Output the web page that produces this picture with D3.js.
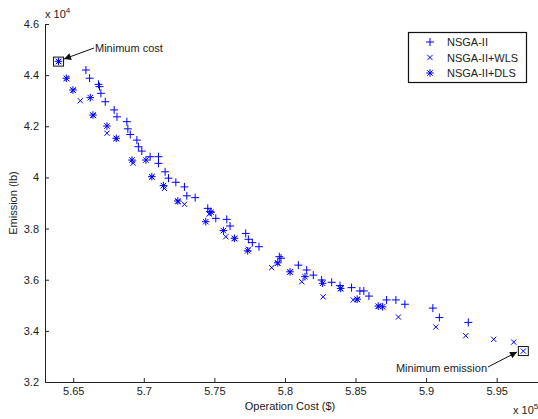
<!doctype html>
<html>
  <head>
    <meta charset="utf-8">
    <title>Pareto fronts</title>
    <script src="https://cdn.jsdelivr.net/npm/d3@7/dist/d3.min.js"></script>
    <style>
      body { margin: 0; background: #fff; }
      text { font-family: "Liberation Sans", Arial, sans-serif; fill: #222; }
    </style>
  </head>
  <body>
  <script>

  var width = 538;
  var height = 419;

  // NSGA-II  (cost $, emission lb)
  var nsgaCost = [565900, 566160, 566790, 566860, 566960, 567270, 567900, 568100, 568800, 568870,
    569040, 569510, 569620, 569860, 570450, 571040, 571040, 571510, 571750, 572270,
    572880, 573050, 573640, 574530, 574700, 575100, 575880, 576110, 577220, 577410,
    577690, 578160, 579600, 579720, 580950, 581540, 582010, 582600, 583310, 583900,
    584720, 585310, 585590, 585950, 587200, 587860, 588500, 590480, 590940, 592990];
  var nsgaEmission = [44200, 43880, 43640, 43550, 43290, 42960, 42640, 42370, 42180, 41900,
    41680, 41460, 41200, 41030, 40810, 40810, 40550, 40220, 39970, 39810,
    39630, 39280, 39210, 38790, 38660, 38400, 38360, 38100, 37810, 37580,
    37450, 37290, 36900, 36840, 36570, 36380, 36180, 35990, 35900, 35770,
    35690, 35560, 35560, 35360, 35210, 35210, 35040, 34890, 34520, 34330];

  // NSGA-II+WLS
  var wlsCost = [563960, 564540, 565500, 565000, 566420, 567390, 568060, 569250, 570580, 571460,
    572880, 572420, 574630, 575810, 576430, 577410, 579060, 579480, 580360, 581190,
    582710, 583940, 584840, 585130, 586640, 588040, 590690, 592810, 594790, 596210, 596890];
  var wlsEmission = [44530, 43860, 43000, 43400, 42420, 41730, 41510, 40560, 40010, 39570,
    38950, 39050, 38570, 37680, 37600, 37190, 36470, 36640, 36290, 35920,
    35330, 35640, 35210, 35220, 34950, 34540, 34150, 33810, 33670, 33560, 33210];

  // NSGA-II+DLS
  var dlsCost = [563960, 564510, 564980, 566210, 566400, 567390, 568050, 569160, 570150, 570570,
    571390, 572410, 574390, 574770, 575640, 576420, 577360, 579490, 580360, 581420,
    582670, 583950, 585120, 586610, 586920];
  var dlsEmission = [44540, 43880, 43420, 43120, 42440, 42010, 41530, 40680, 40680, 40030,
    39680, 39080, 38270, 38640, 37920, 37620, 37130, 36660, 36310, 36120,
    35860, 35660, 35240, 34970, 34940];

  var seriesNames = ["NSGA-II", "NSGA-II+WLS", "NSGA-II+DLS"];
  var xTicks = [565000, 570000, 575000, 580000, 585000, 590000, 595000];
  var yTicks = [32000, 34000, 36000, 38000, 40000, 42000, 44000, 46000];

  var margin = {top: 24, right: -1, bottom: 37, left: 45};

  var x = d3.scaleLinear().domain([563000, 598000]).range([margin.left, width - margin.right]);
  var y = d3.scaleLinear().domain([32000, 46000]).range([height - margin.bottom, margin.top]);

  // marker shapes
  function plus(s) { return "M" + (-s) + ",0H" + s + "M0," + (-s) + "V" + s; }
  function cross(s) { return "M" + (-s) + "," + (-s) + "L" + s + "," + s + "M" + (-s) + "," + s + "L" + s + "," + (-s); }
  function star(s) { return plus(s) + cross(s * 0.72); }

  var markers = [plus(4), cross(2.6), star(3.8)];

  var svg = d3.select("body").append("svg")
    .attr("width", width)
    .attr("height", height);

  // axes
  var xAxis = d3.axisBottom(x).tickValues(xTicks)
    .tickSizeInner(-4).tickSizeOuter(0).tickPadding(5)
    .tickFormat(function (d) { return d3.format("~g")(d / 1e5); });
  var yAxis = d3.axisLeft(y).tickValues(yTicks)
    .tickSizeInner(-4).tickSizeOuter(0).tickPadding(6)
    .tickFormat(function (d) { return d3.format("~g")(d / 1e4); });

  var gx = svg.append("g").attr("transform", "translate(0," + y.range()[0] + ")").call(xAxis);
  var gy = svg.append("g").attr("transform", "translate(" + margin.left + ",0)").call(yAxis);
  [gx, gy].forEach(function (g) {
    g.select(".domain").attr("stroke", "#222");
    g.selectAll(".tick line").attr("stroke", "#222");
    g.selectAll("text").attr("font-size", 11).attr("font-family", "Liberation Sans, Arial, sans-serif").attr("fill", "#222");
  });

  // exponent labels
  var e4 = svg.append("text").attr("x", 45).attr("y", 18).attr("font-size", 11).text("x 10");
  e4.append("tspan").attr("dy", -5).attr("font-size", 8).text("4");
  var e5 = svg.append("text").attr("x", 513).attr("y", 414).attr("font-size", 11).text("x 10");
  e5.append("tspan").attr("dy", -5).attr("font-size", 8).text("5");

  // axis titles
  svg.append("text")
    .attr("transform", "translate(17," + (margin.top + y.range()[0]) / 2 + ") rotate(-90)")
    .attr("text-anchor", "middle").attr("font-size", 11)
    .text("Emission (lb)");
  svg.append("text")
    .attr("x", 290).attr("y", 410)
    .attr("text-anchor", "middle").attr("font-size", 11)
    .text("Operation Cost ($)");

  // points
  var series = [
    {cost: nsgaCost, em: nsgaEmission},
    {cost: wlsCost, em: wlsEmission},
    {cost: dlsCost, em: dlsEmission}
  ];

  series.forEach(function (s, i) {
    svg.append("g").selectAll("path")
      .data(d3.range(s.cost.length))
      .enter().append("path")
      .attr("transform", function (k) { return "translate(" + x(s.cost[k]) + "," + y(s.em[k]) + ")"; })
      .attr("d", markers[i])
      .attr("fill", "none")
      .attr("stroke", "#0000ff")
      .attr("stroke-width", 1);
  });

  // annotations: min cost and min emission
  svg.append("defs").append("marker")
    .attr("id", "head").attr("viewBox", "0 0 10 10")
    .attr("refX", 10).attr("refY", 5)
    .attr("markerWidth", 9).attr("markerHeight", 7)
    .attr("markerUnits", "userSpaceOnUse")
    .attr("orient", "auto")
    .append("path").attr("d", "M0,0L10,5L0,10z").attr("fill", "#111");

  var notes = [
    {cost: wlsCost[0], em: wlsEmission[0], label: "Minimum cost", tx: 95, ty: 52, anchor: "start", ax: 94, ay: 48, hx: 64, hy: 59},
    {cost: wlsCost[wlsCost.length - 1], em: wlsEmission[wlsEmission.length - 1], label: "Minimum emission", tx: 487, ty: 372, anchor: "end", ax: 488, ay: 367, hx: 517, hy: 352}
  ];

  notes.forEach(function (n) {
    svg.append("rect")
      .attr("x", x(n.cost) - 5).attr("y", y(n.em) - 4.5)
      .attr("width", 10).attr("height", 9)
      .attr("fill", "none").attr("stroke", "#111").attr("stroke-width", 1);
    svg.append("line")
      .attr("x1", n.ax).attr("y1", n.ay).attr("x2", n.hx).attr("y2", n.hy)
      .attr("stroke", "#111").attr("stroke-width", 1)
      .attr("marker-end", "url(#head)");
    svg.append("text")
      .attr("x", n.tx).attr("y", n.ty)
      .attr("text-anchor", n.anchor).attr("font-size", 11)
      .text(n.label);
  });

  // legend
  var legend = svg.append("g");
  legend.append("rect")
    .attr("x", 408.5).attr("y", 32.5).attr("width", 118).attr("height", 50)
    .attr("fill", "#fff").attr("stroke", "#111").attr("stroke-width", 1.2);
  seriesNames.forEach(function (name, i) {
    var ly = 42 + i * 15.5;
    legend.append("path")
      .attr("transform", "translate(430," + ly + ")")
      .attr("d", markers[i])
      .attr("fill", "none").attr("stroke", "#0000ff");
    legend.append("text")
      .attr("x", 447).attr("y", ly + 4)
      .attr("font-size", 11)
      .text(name);
  });

  </script>
  </body>
</html>
